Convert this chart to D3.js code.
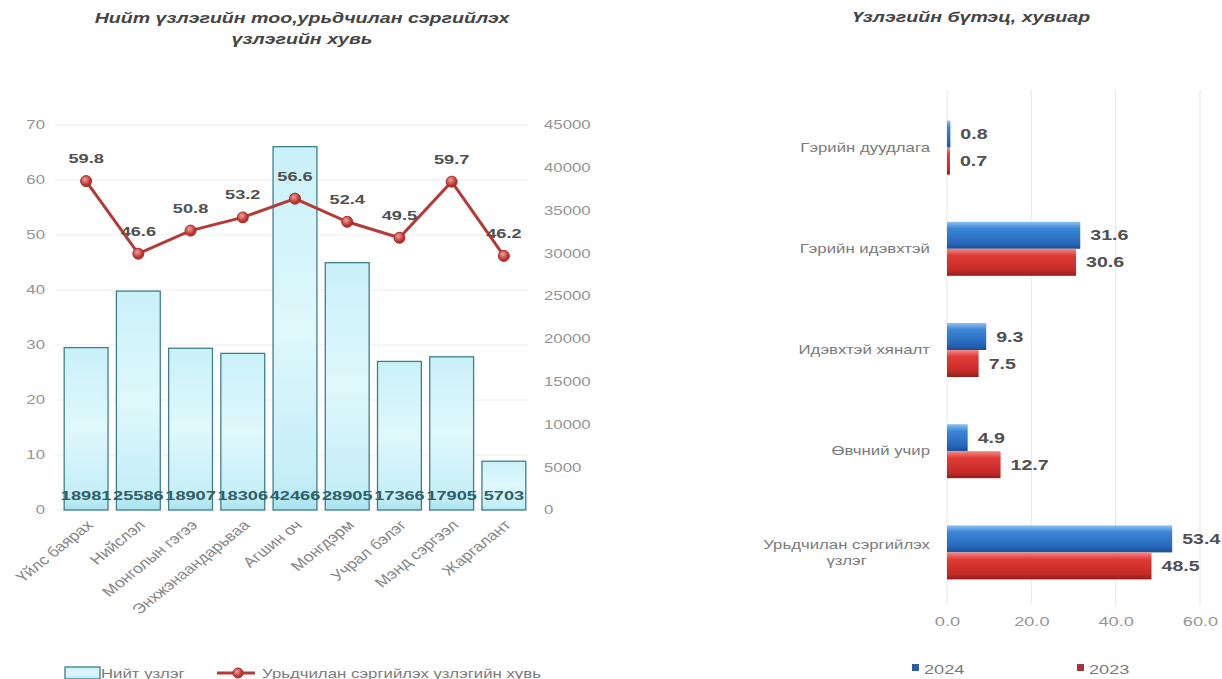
<!DOCTYPE html>
<html>
<head>
<meta charset="utf-8">
<script src="https://cdn.jsdelivr.net/npm/d3@7"></script>
<style>
  body { margin: 0; background: #fff; }
  svg { display: block; font-family: "Liberation Sans", Arial, sans-serif; }
</style>
</head>
<body>
<svg id="chart" width="1222" height="679"></svg>
<script>
// left chart data
const clinics = ["Үйлс баярах", "Нийслэл", "Монголын гэгээ", "Энхжэнаандарьваа", "Агшин оч", "Монгдэрм", "Учрал бэлэг", "Мэнд сэргээл", "Жаргалант"];
const totalExams = [18981, 25586, 18907, 18306, 42466, 28905, 17366, 17905, 5703];
const preventiveShare = [59.8, 46.6, 50.8, 53.2, 56.6, 52.4, 49.5, 59.7, 46.2];
const leftTicks = [0, 10, 20, 30, 40, 50, 60, 70];
const rightTicks = [0, 5000, 10000, 15000, 20000, 25000, 30000, 35000, 40000, 45000];

// right chart data
const examTypes = ["Гэрийн дуудлага", "Гэрийн идэвхтэй", "Идэвхтэй хяналт", "Өвчний учир", "Урьдчилан сэргийлэх үзлэг"];
const years = ["2024", "2023"];
const share2024 = [0.8, 31.6, 9.3, 4.9, 53.4];
const share2023 = [0.7, 30.6, 7.5, 12.7, 48.5];
const shareTicks = [0, 20, 40, 60];

// the picture is stretched sideways, text too
const SX = 1.4;

const svg = d3.select("#chart");
const defs = svg.append("defs");

function vGrad(id, stops) {
  const g = defs.append("linearGradient").attr("id", id)
    .attr("x1", 0).attr("y1", 0).attr("x2", 0).attr("y2", 1);
  stops.forEach(s => g.append("stop").attr("offset", s[0]).attr("stop-color", s[1]));
}
vGrad("cyanGrad", [[0, "#c9f1f8"], [0.5, "#dff8fc"], [0.92, "#c4eef6"], [1, "#a9e2ee"]]);
vGrad("blueGrad", [[0, "#8fc0f2"], [0.25, "#3d86d8"], [0.8, "#2566b8"], [1, "#1c4f94"]]);
vGrad("redGrad", [[0, "#f28a86"], [0.25, "#e03b36"], [0.8, "#c42a27"], [1, "#8f1f1d"]]);
const mg = defs.append("radialGradient").attr("id", "dotGrad").attr("cx", "40%").attr("cy", "35%");
mg.append("stop").attr("offset", 0).attr("stop-color", "#f3a09c");
mg.append("stop").attr("offset", 1).attr("stop-color", "#b8322e");

// stretched text helper
function stext(parent, x, y, str, size, opts = {}) {
  const g = parent.append("g").attr("transform", `translate(${x},${y}) scale(${opts.sx || SX},1)` + (opts.rot ? ` rotate(${opts.rot})` : ""));
  return g.append("text")
    .attr("text-anchor", opts.anchor || "start")
    .attr("font-size", size)
    .attr("font-weight", opts.bold ? "bold" : null)
    .attr("font-style", opts.italic ? "italic" : null)
    .attr("fill", opts.fill || "#7a7a7a")
    .text(str);
}

// ---------- left: bars + line ----------
const x = d3.scaleBand().domain(clinics).range([60, 530]).paddingInner(0.16).paddingOuter(0.08);
const yL = d3.scaleLinear().domain([0, 70]).range([510, 125]);
const yR = d3.scaleLinear().domain([0, 45000]).range([510, 125]);
const cx = i => x(clinics[i]) + x.bandwidth() / 2;

stext(svg, 302, 23, "Нийт  үзлэгийн тоо,урьдчилан сэргийлэх", 14, { anchor: "middle", bold: true, italic: true, fill: "#454545" });
stext(svg, 302, 44, "үзлэгийн хувь", 14, { anchor: "middle", bold: true, italic: true, fill: "#454545" });

svg.append("g").selectAll("line").data(leftTicks).join("line")
  .attr("x1", 55).attr("x2", 528)
  .attr("y1", d => yL(d)).attr("y2", d => yL(d))
  .attr("stroke", "#ececec").attr("stroke-width", 1);

const axL = svg.append("g").attr("transform", "translate(45,0)")
  .call(d3.axisLeft(yL).tickValues(leftTicks).tickSize(0).tickPadding(0));
const axR = svg.append("g").attr("transform", "translate(544,0)")
  .call(d3.axisRight(yR).tickValues(rightTicks).tickSize(0).tickPadding(0).tickFormat(d3.format("d")));
[axL, axR].forEach(a => {
  a.select(".domain").remove();
  a.selectAll("text").attr("fill", "#959595").attr("font-size", 12)
    .attr("font-family", "Liberation Sans, Arial, sans-serif")
    .attr("transform", `scale(${SX},1)`);
});

svg.append("g").selectAll("rect").data(totalExams).join("rect")
  .attr("x", (d, i) => x(clinics[i]))
  .attr("y", d => yR(d))
  .attr("width", x.bandwidth())
  .attr("height", d => yR(0) - yR(d))
  .attr("fill", "url(#cyanGrad)")
  .attr("stroke", "#3e7f8c").attr("stroke-width", 1.3);

const barLab = svg.append("g");
totalExams.forEach((d, i) => stext(barLab, cx(i), 500, d, 13, { anchor: "middle", bold: true, fill: "#2f5f6a" }));

const line = d3.line()
  .x((d, i) => cx(i))
  .y(d => yL(d));
svg.append("path").datum(preventiveShare)
  .attr("d", line).attr("fill", "none")
  .attr("stroke", "#b43a37").attr("stroke-width", 3);
svg.append("g").selectAll("circle").data(preventiveShare).join("circle")
  .attr("cx", (d, i) => cx(i))
  .attr("cy", d => yL(d))
  .attr("r", 5.5)
  .attr("fill", "url(#dotGrad)").attr("stroke", "#a32b28").attr("stroke-width", 1);
const lineLab = svg.append("g");
preventiveShare.forEach((d, i) => stext(lineLab, cx(i), yL(d) - 18, d.toFixed(1), 13, { anchor: "middle", bold: true, fill: "#505050" }));

const xLab = svg.append("g");
clinics.forEach((d, i) => stext(xLab, cx(i) + 8, 526, d, 14, { anchor: "end", sx: 1.25, rot: -45, fill: "#858585" }));

// left legend
svg.append("rect").attr("x", 65).attr("y", 667).attr("width", 35).attr("height", 12)
  .attr("fill", "url(#cyanGrad)").attr("stroke", "#3e7f8c").attr("stroke-width", 1.3);
stext(svg, 101, 678, "Нийт үзлэг", 12);
svg.append("line").attr("x1", 217).attr("x2", 255).attr("y1", 673).attr("y2", 673)
  .attr("stroke", "#b43a37").attr("stroke-width", 3);
svg.append("circle").attr("cx", 238).attr("cy", 673).attr("r", 5)
  .attr("fill", "url(#dotGrad)").attr("stroke", "#a32b28");
stext(svg, 262, 678, "Урьдчилан сэргийлэх үзлэгийн хувь", 12);

// ---------- right: horizontal bars ----------
const xs = d3.scaleLinear().domain([0, 60]).range([947, 1200]);
const yb = d3.scaleBand().domain(examTypes).range([97, 603]);
const ySub = d3.scaleBand().domain(years).range([0, 54]);
const shares = { "2024": share2024, "2023": share2023 };
const fills = { "2024": "url(#blueGrad)", "2023": "url(#redGrad)" };

stext(svg, 971, 22, "Үзлэгийн бүтэц, хувиар", 14, { anchor: "middle", bold: true, italic: true, fill: "#454545" });

svg.append("g").selectAll("line").data(shareTicks).join("line")
  .attr("x1", d => xs(d)).attr("x2", d => xs(d))
  .attr("y1", 90).attr("y2", 605)
  .attr("stroke", "#e6e6e6").attr("stroke-width", 1);

const axB = svg.append("g").attr("transform", "translate(0,617)")
  .call(d3.axisBottom(xs).tickValues(shareTicks).tickSize(0).tickPadding(0).tickFormat(d3.format(".1f")));
axB.select(".domain").remove();
axB.selectAll("text").attr("fill", "#959595").attr("font-size", 13)
  .attr("font-family", "Liberation Sans, Arial, sans-serif")
  .attr("transform", `scale(${SX},1)`);

const groups = svg.append("g").selectAll("g").data(examTypes).join("g")
  .attr("transform", d => `translate(0,${yb(d) + yb.bandwidth() / 2 - 27})`);

years.forEach(yr => {
  groups.append("rect")
    .attr("x", xs(0))
    .attr("y", ySub(yr))
    .attr("width", (d, i) => Math.max(1.5, xs(shares[yr][i]) - xs(0)))
    .attr("height", ySub.bandwidth())
    .attr("fill", fills[yr]);
  groups.each(function (d, i) {
    stext(d3.select(this), xs(shares[yr][i]) + 10, ySub(yr) + ySub.bandwidth() / 2 + 5,
      shares[yr][i].toFixed(1), 14, { bold: true, fill: "#505050" });
  });
});

groups.each(function (d) {
  const g = d3.select(this);
  if (d === "Урьдчилан сэргийлэх үзлэг") {
    const t1 = stext(g, 0, 24, "Урьдчилан сэргийлэх", 12, { anchor: "middle" });
    const w = t1.node().getComputedTextLength() * SX;
    const xc = 930 - w / 2;
    t1.node().parentNode.setAttribute("transform", `translate(${xc},24) scale(${SX},1)`);
    stext(g, xc, 40, "үзлэг", 12, { anchor: "middle" });
  } else {
    stext(g, 930, 31, d, 12, { anchor: "end" });
  }
});

// right legend
const legX = { "2024": 912, "2023": 1077 };
years.forEach(yr => {
  svg.append("rect").attr("x", legX[yr]).attr("y", 664).attr("width", 7).attr("height", 7)
    .attr("fill", yr === "2024" ? "#2f5f9f" : "#a8333a");
  stext(svg, legX[yr] + 12, 674, yr, 13);
});
</script>
</body>
</html>
